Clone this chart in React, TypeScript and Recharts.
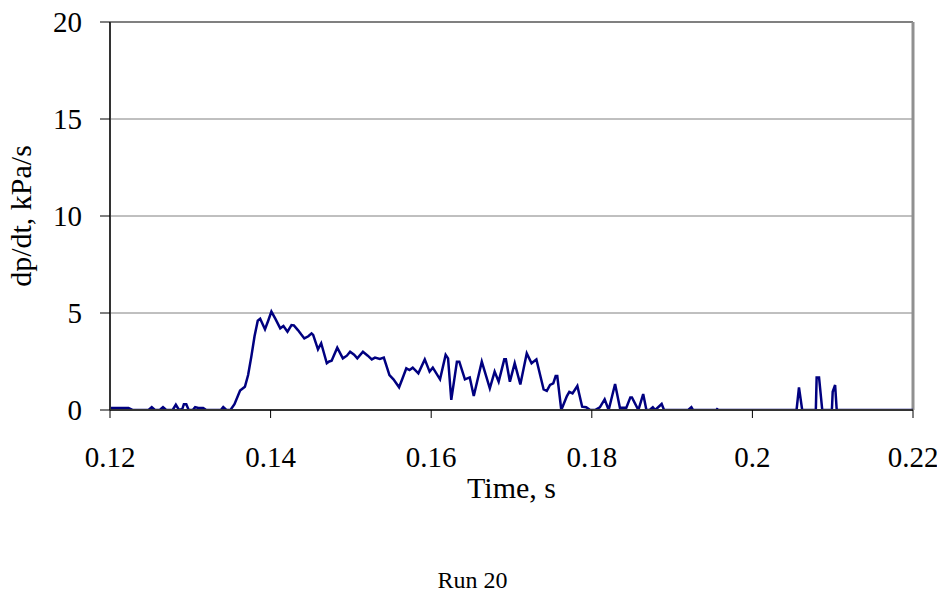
import React from "react";
import { LineChart, Line, XAxis, YAxis, CartesianGrid, ReferenceLine } from "recharts";

const times: number[] = [
  0.1200, 0.1210, 0.1223, 0.1228, 0.1248, 0.1252, 0.1256, 0.1262, 0.1266, 0.1270,
  0.1278, 0.1282, 0.1286, 0.1290, 0.1292, 0.1295, 0.1298, 0.1303, 0.1306, 0.1310,
  0.1316, 0.1320, 0.1338, 0.1341, 0.1345, 0.1350, 0.1355, 0.1362, 0.1368, 0.1372,
  0.1376, 0.1380, 0.1384, 0.1387, 0.1393, 0.1397, 0.1401, 0.1406, 0.1412, 0.1416,
  0.1421, 0.1426, 0.1429, 0.1434, 0.1438, 0.1442, 0.1447, 0.1451, 0.1453, 0.1459,
  0.1463, 0.1470, 0.1473, 0.1476, 0.1483, 0.1490, 0.1495, 0.1499, 0.1504, 0.1508,
  0.1515, 0.1521, 0.1526, 0.1530, 0.1536, 0.1541, 0.1548, 0.1553, 0.1560, 0.1564,
  0.1569, 0.1573, 0.1577, 0.1584, 0.1592, 0.1598, 0.1602, 0.1611, 0.1618, 0.1621,
  0.1625, 0.1632, 0.1635, 0.1642, 0.1648, 0.1653, 0.1663, 0.1673, 0.1679, 0.1684,
  0.1691, 0.1693, 0.1698, 0.1704, 0.1711, 0.1719, 0.1725, 0.1731, 0.1740, 0.1744,
  0.1748, 0.1752, 0.1755, 0.1757, 0.1762, 0.1769, 0.1772, 0.1776, 0.1782, 0.1788,
  0.1793, 0.1798, 0.1804, 0.1810, 0.1816, 0.1821, 0.1829, 0.1835, 0.1843, 0.1848,
  0.1850, 0.1858, 0.1864, 0.1868, 0.1872, 0.1876, 0.1879, 0.1887, 0.1890, 0.1920,
  0.1924, 0.1926, 0.1955, 0.1956, 0.1958, 0.2055, 0.2058, 0.2062, 0.2079, 0.2080,
  0.2083, 0.2087, 0.2099, 0.2100, 0.2103, 0.2105, 0.2200,
];

const dpdt: number[] = [
  0.1, 0.1, 0.1, 0, 0, 0.15, 0, 0, 0.15, 0,
  0, 0.27, 0, 0.05, 0.3, 0.3, 0, 0, 0.15, 0.1,
  0.1, 0, 0, 0.15, 0, 0, 0.3, 1.0, 1.2, 1.8,
  2.75, 3.8, 4.6, 4.7, 4.16, 4.6, 5.07, 4.7, 4.21, 4.33,
  4.04, 4.38, 4.36, 4.12, 3.9, 3.69, 3.8, 3.95, 3.87, 3.13,
  3.44, 2.41, 2.5, 2.54, 3.21, 2.66, 2.8, 3.0, 2.85, 2.66,
  3.0, 2.8, 2.61, 2.7, 2.63, 2.7, 1.8, 1.58, 1.17, 1.6,
  2.15, 2.06, 2.18, 1.89, 2.61, 1.98, 2.18, 1.58, 2.84, 2.66,
  0.52, 2.49, 2.49, 1.58, 1.68, 0.72, 2.49, 1.12, 1.98, 1.46,
  2.61, 2.61, 1.46, 2.41, 1.32, 2.92, 2.41, 2.61, 1.06, 0.99,
  1.29, 1.37, 1.75, 1.75, 0, 0.72, 0.94, 0.86, 1.24, 0.17,
  0.14, 0, 0, 0.14, 0.55, 0, 1.34, 0.12, 0.12, 0.65,
  0.65, 0, 0.82, 0, 0, 0.14, 0, 0.31, 0, 0,
  0.14, 0, 0, 0.05, 0, 0, 1.17, 0, 0, 1.68,
  1.68, 0, 0, 0.94, 1.29, 0, 0,
];

const xTicks: number[] = [0.12, 0.14, 0.16, 0.18, 0.2, 0.22];
const yTicks: number[] = [0, 5, 10, 15, 20];

const data = times.map((t, i) => ({ t, v: dpdt[i] }));

const FONT = "'Liberation Serif', 'Times New Roman', serif";

export default function App() {
  return (
    <div
      style={{
        position: "relative",
        width: 945,
        height: 595,
        margin: "-8px 0 0 -8px",
        fontFamily: FONT,
      }}
    >
      <LineChart
        width={945}
        height={595}
        data={data}
        margin={{ top: 22, right: 32, bottom: 85, left: 0 }}
      >
        <CartesianGrid horizontal={true} vertical={false} stroke="#808080" strokeWidth={1} />
        <ReferenceLine y={20} stroke="#808080" strokeWidth={2} />
        <ReferenceLine x={0.22} stroke="#909090" strokeWidth={3} />
        <XAxis
          dataKey="t"
          type="number"
          domain={[0.12, 0.22]}
          ticks={xTicks}
          allowDataOverflow
          tickFormatter={(v: number) => String(+v.toFixed(2))}
          tickSize={8}
          tickMargin={28}
          height={100}
          axisLine={{ stroke: "#333333", strokeWidth: 2 }}
          tickLine={{ stroke: "#000000", strokeWidth: 1 }}
          tick={{ fill: "#000000", fontSize: 29, fontFamily: FONT }}
          label={{
            value: "Time, s",
            position: "insideBottom",
            offset: 12,
            fill: "#000000",
            fontSize: 30,
            fontFamily: FONT,
          }}
        />
        <YAxis
          type="number"
          domain={[0, 20]}
          ticks={yTicks}
          allowDataOverflow
          width={110}
          tickSize={10}
          tickMargin={18}
          axisLine={{ stroke: "#333333", strokeWidth: 2 }}
          tickLine={{ stroke: "#000000", strokeWidth: 1 }}
          tick={{ fill: "#000000", fontSize: 29, fontFamily: FONT }}
          label={{
            value: "dp/dt, kPa/s",
            angle: -90,
            position: "center",
            dx: -35,
            fill: "#000000",
            fontSize: 30,
            fontFamily: FONT,
          }}
        />
        <Line
          type="linear"
          dataKey="v"
          stroke="#000080"
          strokeWidth={2.5}
          dot={false}
          isAnimationActive={false}
        />
      </LineChart>
      <div
        style={{
          position: "absolute",
          left: 0,
          width: 945,
          top: 567,
          textAlign: "center",
          fontSize: 24,
          lineHeight: "26px",
          fontFamily: FONT,
          color: "#000",
        }}
      >
        Run 20
      </div>
    </div>
  );
}
